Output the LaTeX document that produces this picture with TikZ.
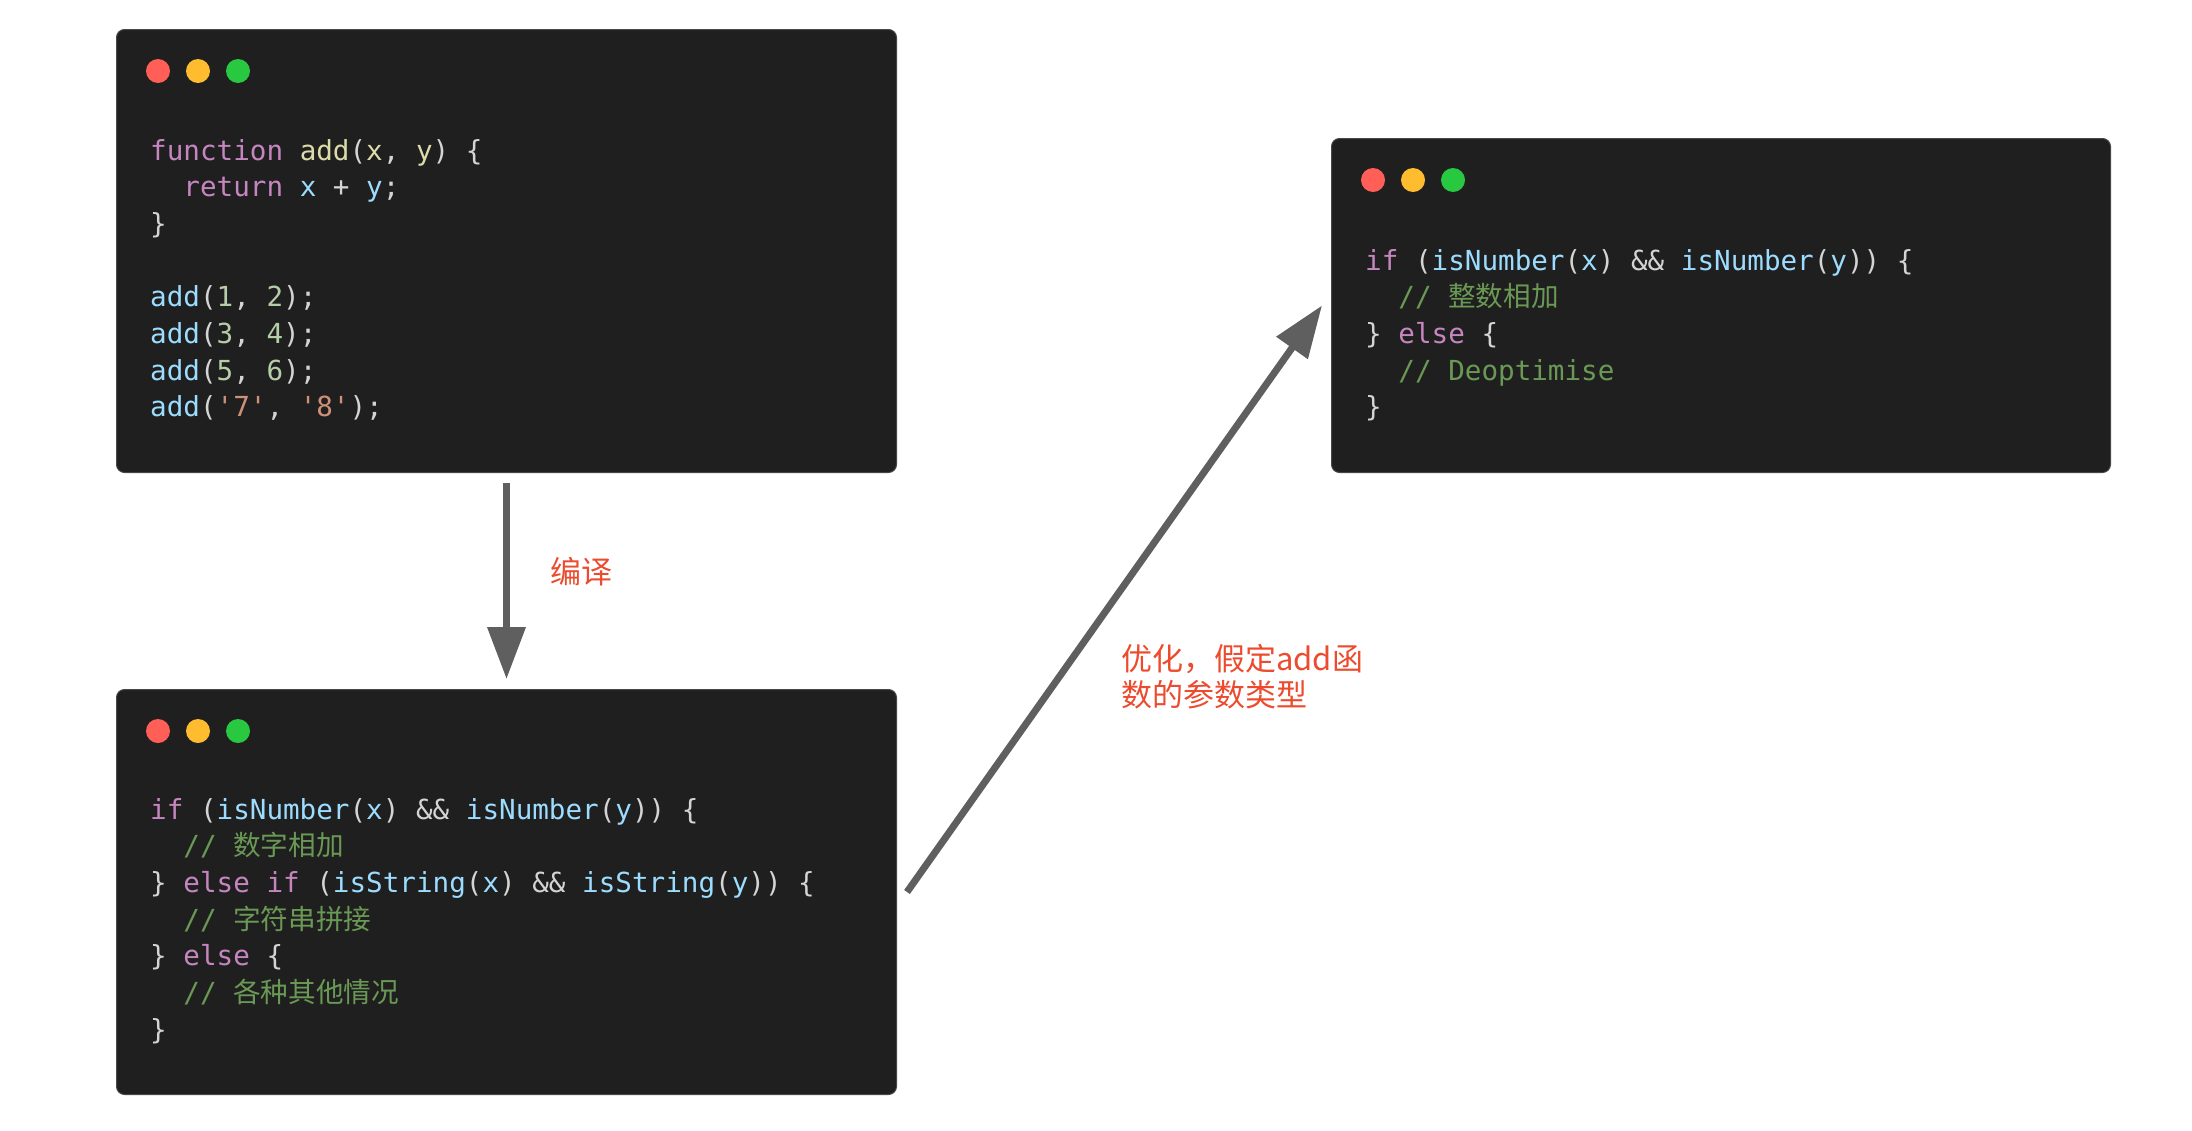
\documentclass[tikz,border=0pt]{standalone}
\usepackage{fontspec}
\usetikzlibrary{arrows.meta}
\newfontfamily\codefont{DejaVu Sans Mono}
\newfontfamily\cjkfont{Noto Sans CJK SC}
\definecolor{boxbg}{HTML}{1F1F1F}
\definecolor{boxedge}{HTML}{474747}
\definecolor{ckwc}{HTML}{C586C0}
\definecolor{cfnc}{HTML}{DCDCAA}
\definecolor{cvarc}{HTML}{9CDCFE}
\definecolor{cpunc}{HTML}{D4D4D4}
\definecolor{cnumc}{HTML}{B5CEA8}
\definecolor{cstrc}{HTML}{CE9178}
\definecolor{ccomc}{HTML}{6A9955}
\definecolor{lred}{HTML}{FF5F57}
\definecolor{lyel}{HTML}{FEBC2E}
\definecolor{lgrn}{HTML}{28C840}
\definecolor{arrowgray}{HTML}{5F5F5F}
\definecolor{notered}{HTML}{EC4B2E}
\newcommand\ckw[1]{\textcolor{ckwc}{#1}}
\newcommand\cfn[1]{\textcolor{cfnc}{#1}}
\newcommand\cvar[1]{\textcolor{cvarc}{#1}}
\newcommand\cnum[1]{\textcolor{cnumc}{#1}}
\newcommand\cstr[1]{\textcolor{cstrc}{#1}}
\newcommand\ccom[1]{\textcolor{ccomc}{#1}}
\newcommand\cind{\hphantom{xx}}
\tikzset{
  codebox/.style={fill=boxbg, draw=boxedge, line width=1pt, rounded corners=8pt,
    inner sep=0pt, anchor=north west},
  codeline/.style={anchor=base west, inner sep=0pt, text=cpunc,
    font=\codefont\fontsize{27.6}{36}\selectfont},
  light/.style={circle, inner sep=0pt, minimum size=24pt},
  flow/.style={draw=arrowgray, line width=7pt, -{Triangle[length=52pt,width=37pt]}},
  note/.style={anchor=base west, inner sep=0pt, text=notered,
    font=\cjkfont\fontsize{31}{36}\selectfont}
}
\begin{document}
\begin{tikzpicture}[x=1pt,y=-1pt]
\useasboundingbox (0,0) rectangle (2192,1130);

% boxes
\node[codebox, minimum width=780pt, minimum height=443pt] (box1) at (116,29) {};
\node[codebox, minimum width=780pt, minimum height=405pt] (box2) at (116,689) {};
\node[codebox, minimum width=779pt, minimum height=334pt] (box3) at (1331,138) {};

% traffic lights
\foreach \b in {box1,box2,box3}{
  \node[light, fill=lred] (\b r) at ([xshift=42pt,yshift=-42pt]\b.north west) {};
  \node[light, fill=lyel] (\b y) at ([xshift=82pt,yshift=-42pt]\b.north west) {};
  \node[light, fill=lgrn] (\b g) at ([xshift=122pt,yshift=-42pt]\b.north west) {};
}

% box 1 code
\node[codeline] (a1) at (150,160.0) {\ckw{function} \cfn{add}(\cfn{x}, \cfn{y}) \{};
\node[codeline] (a2) at (150,196.7) {\cind\ckw{return} \cvar{x} + \cvar{y};};
\node[codeline] (a3) at (150,233.4) {\}};
\node[codeline] (a5) at (150,306.8) {\cvar{add}(\cnum{1}, \cnum{2});};
\node[codeline] (a6) at (150,343.5) {\cvar{add}(\cnum{3}, \cnum{4});};
\node[codeline] (a7) at (150,380.2) {\cvar{add}(\cnum{5}, \cnum{6});};
\node[codeline] (a8) at (150,416.9) {\cvar{add}(\cstr{'7'}, \cstr{'8'});};

% box 2 code
\node[codeline] (c1) at (150,819.0) {\ckw{if} (\cvar{isNumber}(\cvar{x}) \&\& \cvar{isNumber}(\cvar{y})) \{};
\node[codeline] (c2) at (150,855.7) {\cind\ccom{// {\cjkfont 数字相加}}};
\node[codeline] (c3) at (150,892.4) {\} \ckw{else if} (\cvar{isString}(\cvar{x}) \&\& \cvar{isString}(\cvar{y})) \{};
\node[codeline] (c4) at (150,929.1) {\cind\ccom{// {\cjkfont 字符串拼接}}};
\node[codeline] (c5) at (150,965.8) {\} \ckw{else} \{};
\node[codeline] (c6) at (150,1002.5) {\cind\ccom{// {\cjkfont 各种其他情况}}};
\node[codeline] (c7) at (150,1039.2) {\}};

% box 3 code
\node[codeline] (d1) at (1365,270.0) {\ckw{if} (\cvar{isNumber}(\cvar{x}) \&\& \cvar{isNumber}(\cvar{y})) \{};
\node[codeline] (d2) at (1365,306.7) {\cind\ccom{// {\cjkfont 整数相加}}};
\node[codeline] (d3) at (1365,343.4) {\} \ckw{else} \{};
\node[codeline] (d4) at (1365,380.1) {\cind\ccom{// Deoptimise}};
\node[codeline] (d5) at (1365,416.8) {\}};

% arrows
\draw[flow] ([yshift=-10pt]box1.south) -- ([yshift=10pt]box2.north);
\draw[flow] ([xshift=10pt]box2.east) -- ([xshift=-9pt]box3.west);

% labels
\node[note] (lab1) at (550,583) {编译};
\node[note] (lab2a) at (1121,670) {优化，假定add函};
\node[note] (lab2b) at (1121,706) {数的参数类型};
\end{tikzpicture}
\end{document}
